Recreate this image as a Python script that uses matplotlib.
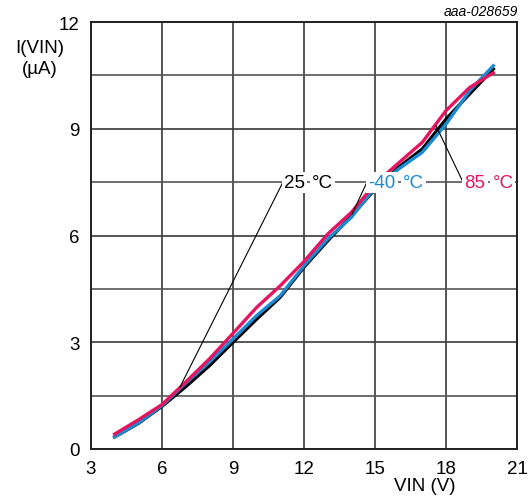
import matplotlib
matplotlib.use("Agg")
import matplotlib.pyplot as plt
import numpy as np

plt.rcParams['font.family'] = ['Liberation Sans', 'DejaVu Sans']

vin = [4, 5, 6, 7, 8, 9, 10, 11, 12, 13, 14, 15, 16, 17, 18, 19, 20]
i_25 = [0.34, 0.72, 1.20, 1.75, 2.34, 3.00, 3.65, 4.27, 5.11, 5.85, 6.55, 7.30, 7.92, 8.43, 9.27, 9.98, 10.68]
i_m40 = [0.34, 0.73, 1.22, 1.85, 2.44, 3.09, 3.75, 4.31, 5.15, 5.90, 6.51, 7.35, 7.87, 8.34, 9.13, 10.07, 10.77]
i_85 = [0.42, 0.82, 1.25, 1.88, 2.53, 3.25, 3.98, 4.59, 5.27, 6.04, 6.65, 7.45, 8.04, 8.62, 9.51, 10.16, 10.57]

x_ticks = [3, 6, 9, 12, 15, 18, 21]
y_ticks = [0, 3, 6, 9, 12]

RED = '#e5145e'
BLUE = '#1a8bd0'
FS = 13.5

fig = plt.figure(figsize=(5.32, 5.02), dpi=100)
ax = fig.add_axes([91/532, 52/502, 426/532, 427/502])

ax.plot(vin, i_25, color='black', lw=2.4, zorder=3, solid_joinstyle='round')
ax.plot(vin, i_m40, color=BLUE, lw=2.4, zorder=4, solid_joinstyle='round')
ax.plot(vin, i_85, color=RED, lw=2.4, zorder=5, solid_joinstyle='round')

ax.set_xlim(3, 21)
ax.set_ylim(0, 12)
ax.set_xticks(x_ticks)
ax.set_yticks(y_ticks)
ax.set_yticks(np.arange(1.5, 12, 3), minor=True)
ax.tick_params(which='both', length=0, labelsize=FS, pad=8)
ax.grid(True, which='major', color='#3a3a3a', lw=1.2)
ax.grid(True, which='minor', axis='y', color='#555555', lw=1.2)
for s in ax.spines.values():
    s.set_linewidth(1.4)
    s.set_color('#222222')

# leader lines
ax.plot([11.11, 6.76], [7.5, 1.74], color='black', lw=0.8, zorder=6)
ax.plot([14.66, 14.03], [7.5, 6.6], color='black', lw=0.8, zorder=6)
ax.plot([18.72, 17.58], [7.5, 9.08], color='black', lw=0.8, zorder=6)

bb = dict(facecolor='white', edgecolor='none', pad=1.5)
labels = [(11.15, '25', '°C', 'black'), (14.72, '-40', '°C', BLUE), (18.78, '85', '°C', RED)]
for x0, num, unit, col in labels:
    t = ax.text(x0, 7.5, num, ha='left', va='center', fontsize=FS, color=col, bbox=bb, zorder=7)
    ax.annotate(unit, xy=(1, 0.5), xycoords=t, xytext=(5, 0), textcoords='offset points',
                ha='left', va='center', fontsize=FS, color=col, bbox=bb, zorder=7)

fig.text(40/532, 1 - 59/502, 'I(VIN)\n(µA)', ha='center', va='center', fontsize=FS, linespacing=1.3)
fig.text(425/532, 1 - 487/502, 'VIN (V)', ha='center', va='center', fontsize=FS)
fig.text(518/532, 1 - 12/502, 'aaa-028659', ha='right', va='center', fontsize=10, style='italic')

fig.savefig('out.png', dpi=100)
